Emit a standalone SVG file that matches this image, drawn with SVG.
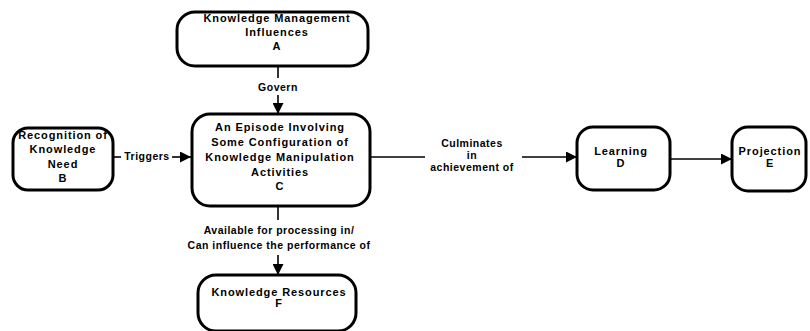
<svg xmlns="http://www.w3.org/2000/svg" width="810" height="331" viewBox="0 0 810 331">
<style>
.box{fill:#fff;stroke:#000;stroke-width:3}
.n{font-family:"Liberation Sans",Arial,sans-serif;font-weight:bold;font-size:11px;letter-spacing:0.9px;text-anchor:middle;fill:#000}
.l{font-family:"Liberation Sans",Arial,sans-serif;font-weight:bold;font-size:10.5px;letter-spacing:0.5px;text-anchor:middle;fill:#000}
.c{fill:none;stroke:#000;stroke-width:1.6}
</style>
<defs>
<marker id="ah" markerUnits="userSpaceOnUse" markerWidth="12" markerHeight="11" refX="11" refY="5.5" orient="auto">
<path d="M0,0 L11,5.5 L0,11 z" fill="#000"/>
</marker>
</defs>
<rect width="810" height="331" fill="#fff"/>
<g id="connectors">
<line class="c" x1="278" y1="66" x2="278" y2="78"/>
<line class="c" x1="278" y1="95" x2="278" y2="114" marker-end="url(#ah)"/>
<line class="c" x1="113" y1="157" x2="121" y2="157"/>
<line class="c" x1="172" y1="157" x2="191" y2="157" marker-end="url(#ah)"/>
<line class="c" x1="370" y1="157" x2="425" y2="157"/>
<line class="c" x1="522" y1="157" x2="577" y2="157" marker-end="url(#ah)"/>
<line class="c" x1="670" y1="159" x2="732" y2="159" marker-end="url(#ah)"/>
<line class="c" x1="278" y1="206" x2="278" y2="220"/>
<line class="c" x1="278" y1="255" x2="278" y2="275" marker-end="url(#ah)"/>
<text class="l" x="278" y="91">Govern</text>
<text class="l" x="147" y="160">Triggers</text>
<text class="l" x="472" y="147">Culminates</text>
<text class="l" x="472" y="159">in</text>
<text class="l" x="472" y="171">achievement of</text>
<text class="l" x="279" y="234">Available for processing in/</text>
<text class="l" x="279" y="249">Can influence the performance of</text>
</g>
<g id="nodeA">
<rect class="box" x="177" y="12" width="191" height="54" rx="18" ry="18"/>
<text class="n" x="277" y="22">Knowledge Management</text>
<text class="n" x="277" y="36">Influences</text>
<text class="n" x="277" y="50">A</text>
</g>
<g id="nodeB">
<rect class="box" x="13" y="128" width="100" height="62" rx="15" ry="15"/>
<text class="n" x="63" y="139">Recognition of</text>
<text class="n" x="63" y="153">Knowledge</text>
<text class="n" x="63" y="168">Need</text>
<text class="n" x="63" y="182">B</text>
</g>
<g id="nodeC">
<rect class="box" x="192" y="114" width="178" height="92" rx="18" ry="18"/>
<text class="n" x="280" y="131">An Episode Involving</text>
<text class="n" x="280" y="146">Some Configuration of</text>
<text class="n" x="280" y="161">Knowledge Manipulation</text>
<text class="n" x="280" y="176">Activities</text>
<text class="n" x="280" y="190">C</text>
</g>
<g id="nodeD">
<rect class="box" x="577" y="127" width="93" height="63" rx="16" ry="16"/>
<text class="n" x="621" y="155">Learning</text>
<text class="n" x="621" y="167">D</text>
</g>
<g id="nodeE">
<rect class="box" x="732" y="127" width="74" height="64" rx="16" ry="16"/>
<text class="n" x="770" y="155">Projection</text>
<text class="n" x="770" y="167">E</text>
</g>
<g id="nodeF">
<rect class="box" x="198" y="275" width="158" height="56" rx="18" ry="18"/>
<text class="n" x="279" y="296">Knowledge Resources</text>
<text class="n" x="279" y="307">F</text>
</g>
</svg>
